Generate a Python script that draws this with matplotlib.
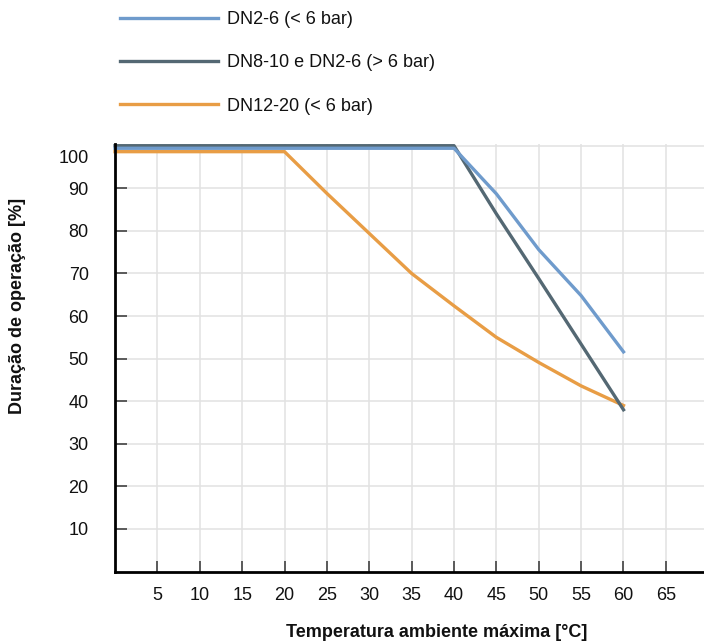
import matplotlib
matplotlib.use("Agg")
import matplotlib.pyplot as plt
from matplotlib.transforms import ScaledTranslation

plt.rcParams["font.family"] = ["Liberation Sans", "DejaVu Sans"]

# ---- data --------------------------------------------------------------
TEMP = [0, 5, 10, 15, 20, 25, 30, 35, 40, 45, 50, 55, 60]

DN2_6_LOW = [99.4, 99.4, 99.4, 99.4, 99.4, 99.4, 99.4, 99.4, 99.4, 88.7, 75.6, 64.8, 51.6]
DN8_10_HIGH = [100, 100, 100, 100, 100, 100, 100, 100, 100, 84.0, 68.8, 53.4, 38.0]
DN12_20_LOW = [98.6, 98.6, 98.6, 98.6, 98.6, 88.8, 79.4, 70.0, 62.4, 55.0, 49.1, 43.6, 39.0]

LABELS = ["DN2-6 (< 6 bar)", "DN8-10 e DN2-6 (> 6 bar)", "DN12-20 (< 6 bar)"]

X_TICKS = [5, 10, 15, 20, 25, 30, 35, 40, 45, 50, 55, 60, 65]
Y_TICKS = [10, 20, 30, 40, 50, 60, 70, 80, 90, 100]

BLUE = "#6f9bcc"
SLATE = "#546873"
ORANGE = "#e89d45"
GRID = "#e2e2e2"

# ---- figure ------------------------------------------------------------
fig = plt.figure(figsize=(7.04, 6.41), dpi=100)
ax = fig.add_axes([0.1634, 0.1083, 0.8366, 0.6677])

LW = 2.4
l_or, = ax.plot(TEMP, DN12_20_LOW, color=ORANGE, lw=LW, clip_on=False, zorder=3)
l_sl, = ax.plot(TEMP, DN8_10_HIGH, color=SLATE, lw=LW, clip_on=False, zorder=4)
l_bl, = ax.plot(TEMP, DN2_6_LOW, color=BLUE, lw=LW, clip_on=False, zorder=5)

ax.set_xlim(0, 69.5)
ax.set_ylim(0, 100.5)

ax.set_xticks(X_TICKS)
ax.set_yticks(Y_TICKS)
ax.grid(True, color=GRID, lw=1.1, zorder=0)
ax.set_axisbelow(True)

for side in ("top", "right"):
    ax.spines[side].set_visible(False)
for side in ("left", "bottom"):
    ax.spines[side].set_linewidth(2.0)
    ax.spines[side].set_color("black")
    ax.spines[side].set_zorder(6)

ax.tick_params(axis="x", direction="in", length=8, width=1.1, color="#333333",
               labelsize=13, pad=11, labelcolor="#111111")
ax.tick_params(axis="y", direction="in", length=8.5, width=1.1, color="#333333",
               labelsize=13, pad=19, labelcolor="#111111")

# the "100" label sits a little lower in the reference
for lab in ax.get_yticklabels():
    if lab.get_text() == "100":
        lab.set_transform(lab.get_transform()
                          + ScaledTranslation(0, -8 / 72, fig.dpi_scale_trans))

ax.set_xlabel("Temperatura ambiente máxima [°C]", fontsize=13, fontweight="bold",
              color="#111111")
ax.xaxis.set_label_coords(0.546, -0.122)
ax.set_ylabel("Duração de operação [%]", fontsize=13, fontweight="bold",
              color="#111111")
ax.yaxis.set_label_coords(-0.151, 0.62)

fig.legend([l_bl, l_sl, l_or], LABELS, loc="upper left",
           bbox_to_anchor=(120 / 704, 1 - 11 / 641),
           frameon=False, fontsize=13, handlelength=5.4, handletextpad=0.55,
           labelspacing=1.46, borderpad=0, borderaxespad=0,
           labelcolor="#111111")

fig.savefig("out.png", dpi=100)
